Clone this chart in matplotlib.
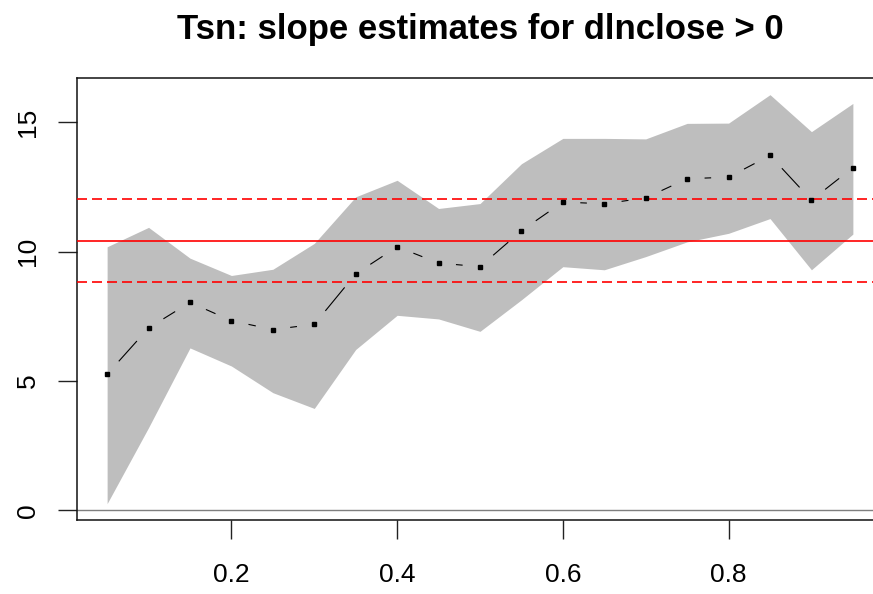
import numpy as np
import matplotlib
matplotlib.use("Agg")
import matplotlib.pyplot as plt

plt.rcParams['font.family'] = ['Liberation Sans', 'DejaVu Sans']

# Data
taus = [0.05, 0.10, 0.15, 0.20, 0.25, 0.30, 0.35, 0.40, 0.45, 0.50,
        0.55, 0.60, 0.65, 0.70, 0.75, 0.80, 0.85, 0.90, 0.95]
estimate = [5.26, 7.05, 8.04, 7.33, 6.99, 7.19, 9.14, 10.19, 9.56, 9.42,
            10.81, 11.92, 11.85, 12.08, 12.82, 12.88, 13.72, 11.99, 13.25]
upper = [10.19, 10.94, 9.75, 9.08, 9.32, 10.32, 12.12, 12.76, 11.67, 11.86,
         13.40, 14.38, 14.38, 14.36, 14.96, 14.97, 16.07, 14.64, 15.73]
lower = [0.26, 3.20, 6.28, 5.58, 4.55, 3.94, 6.22, 7.54, 7.40, 6.92,
         8.14, 9.42, 9.30, 9.81, 10.38, 10.71, 11.28, 9.30, 10.68]
ols_coef = 10.42
ols_ci = [8.83, 12.03]
title = "Tsn: slope estimates for dlnclose > 0"
xticks = [0.2, 0.4, 0.6, 0.8]
yticks = [0, 5, 10, 15]

W, H, DPI = 873, 594, 100
fig = plt.figure(figsize=(W / DPI, H / DPI), dpi=DPI)
left_px, right_px, top_px, bottom_px = 77.3, 882.7, 78.3, 520.0
ax = fig.add_axes([left_px / W, 1 - bottom_px / H,
                   (right_px - left_px) / W, (bottom_px - top_px) / H])

# R-style 4% axis extension
xlo, xhi = min(taus), max(taus)
xp = 0.04 * (xhi - xlo)
ylo, yhi = min(lower), max(upper)
yp = 0.04 * (yhi - ylo)
ax.set_xlim(xlo - xp, xhi + xp)
ax.set_ylim(ylo - yp, yhi + yp)

ax.fill_between(taus, lower, upper, color='#BEBEBE', linewidth=0, zorder=1)
ax.axhline(0, color='#7F7F7F', lw=1.0, zorder=2)
ax.axhline(ols_coef, color='red', lw=1.2, zorder=3)
for v in ols_ci:
    ax.axhline(v, color='red', lw=1.2, dashes=(6, 3), zorder=3)

# points + gapped connecting segments (R type="b")
ax.plot(taus, estimate, linestyle='none', marker='s', markersize=2.3,
        color='black', zorder=5)
gap = 18.0
pts = ax.transData.transform(np.column_stack([taus, estimate]))
inv = ax.transData.inverted()
for i in range(len(pts) - 1):
    p0, p1 = pts[i], pts[i + 1]
    d = p1 - p0
    L = np.hypot(*d)
    if L > 2 * gap:
        u = d / L
        a = inv.transform(p0 + u * gap)
        b = inv.transform(p1 - u * gap)
        ax.plot([a[0], b[0]], [a[1], b[1]], color='black', lw=0.8, zorder=4)

ax.set_xticks(xticks)
ax.set_xticklabels([f"{t:g}" for t in xticks])
ax.set_yticks(yticks)
ax.set_yticklabels([str(t) for t in yticks], rotation=90, va='center')
ax.tick_params(axis='both', length=13.7, width=1.0, labelsize=19, color='#222222')
ax.tick_params(axis='x', pad=17)
ax.tick_params(axis='y', pad=13.5)
for s in ax.spines.values():
    s.set_linewidth(1.1)
    s.set_color('#111111')

fig.text((left_px + right_px) / 2 / W, 1 - 39.3 / H, title, ha='center', va='baseline',
         fontsize=25, fontweight='bold')

fig.savefig('out.png', dpi=DPI)
